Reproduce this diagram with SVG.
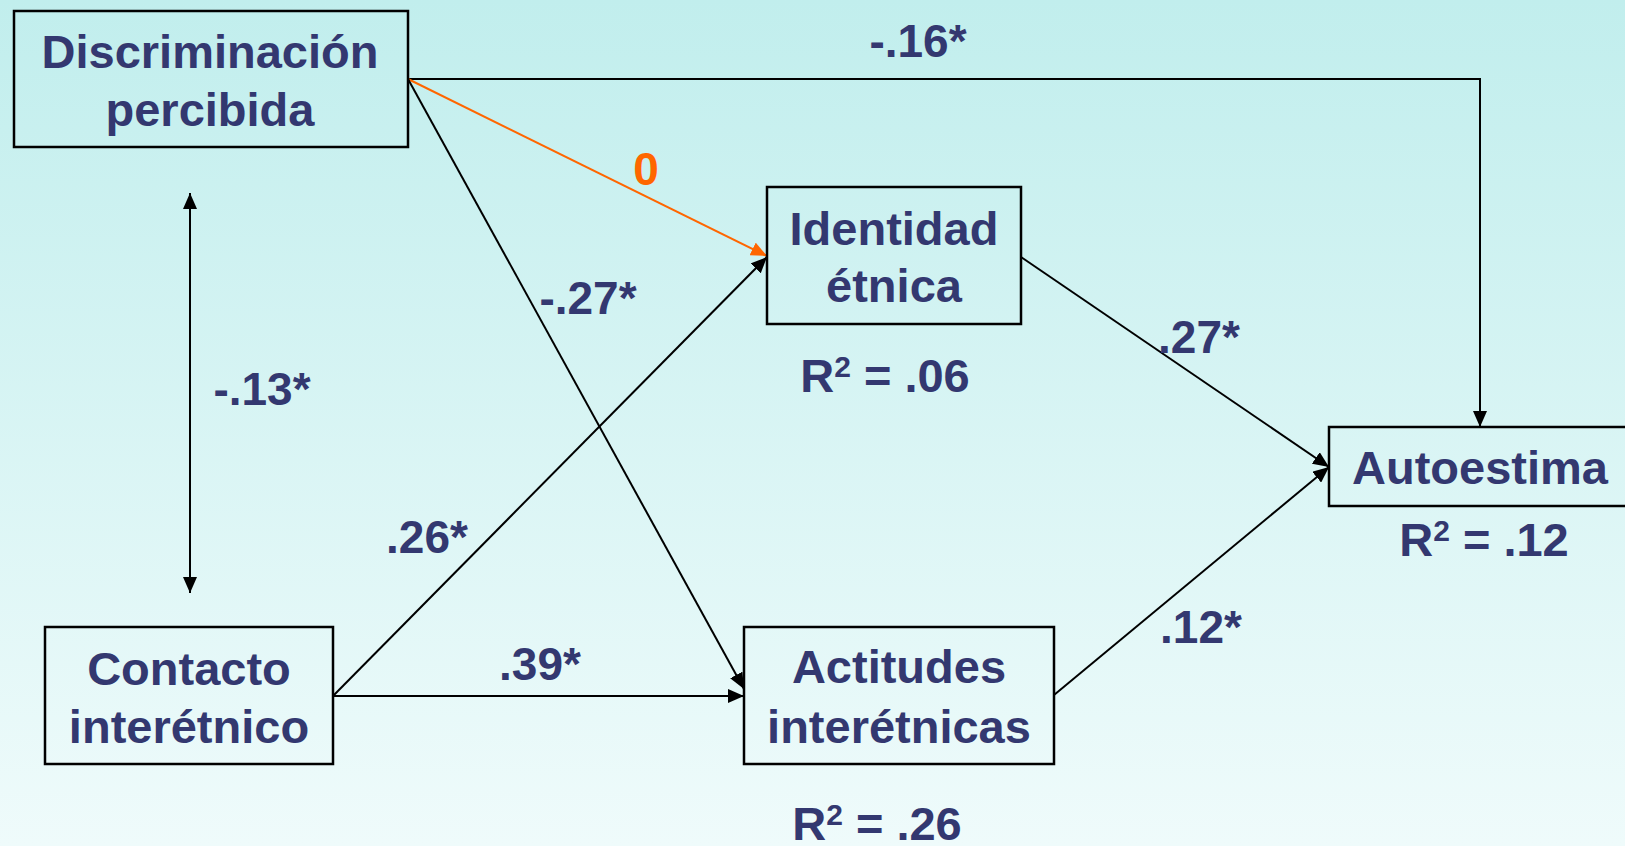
<svg xmlns="http://www.w3.org/2000/svg" width="1625" height="846" viewBox="0 0 1625 846">
<defs>
<linearGradient id="bg" x1="0" y1="0" x2="0" y2="1">
<stop offset="0" stop-color="#c1eeed"/>
<stop offset="1" stop-color="#effbfb"/>
</linearGradient>
<marker id="ah" markerUnits="userSpaceOnUse" markerWidth="17" markerHeight="14" refX="16" refY="7" orient="auto">
<path d="M0,0 L16,7 L0,14 Z" fill="#000"/>
</marker>
<marker id="ahs" markerUnits="userSpaceOnUse" markerWidth="17" markerHeight="14" refX="16" refY="7" orient="auto-start-reverse">
<path d="M0,0 L16,7 L0,14 Z" fill="#000"/>
</marker>
<marker id="aho" markerUnits="userSpaceOnUse" markerWidth="17" markerHeight="14" refX="16" refY="7" orient="auto">
<path d="M0,0 L16,7 L0,14 Z" fill="#ff6600"/>
</marker>
<style>
.box{fill:none;stroke:#000;stroke-width:2.5}
.t{font-family:"Liberation Sans",Arial,sans-serif;font-weight:bold;font-size:47px;fill:#333870;text-anchor:middle}
.l{font-family:"Liberation Sans",Arial,sans-serif;font-weight:bold;font-size:46px;fill:#333870;text-anchor:middle}
.sup{font-size:30px}
.c{fill:none;stroke:#000;stroke-width:2}
</style>
</defs>
<rect x="0" y="0" width="1625" height="846" fill="url(#bg)"/>

<g id="connectors">
<polyline class="c" points="408,79 1480,79 1480,427" marker-end="url(#ah)"/>
<line x1="408" y1="79" x2="767" y2="256" stroke="#ff6600" stroke-width="2" marker-end="url(#aho)"/>
<line class="c" x1="408" y1="79" x2="744" y2="689" marker-end="url(#ah)"/>
<line class="c" x1="333" y1="696" x2="767" y2="257" marker-end="url(#ah)"/>
<line class="c" x1="333" y1="696" x2="744" y2="696" marker-end="url(#ah)"/>
<line class="c" x1="1021" y1="257" x2="1329" y2="467" marker-end="url(#ah)"/>
<line class="c" x1="1054" y1="695" x2="1329" y2="467" marker-end="url(#ah)"/>
<line class="c" x1="190" y1="193" x2="190" y2="593" stroke-width="2.5" marker-start="url(#ahs)" marker-end="url(#ahs)"/>
</g>

<g id="labels">
<text class="l" x="918" y="57">-.16*</text>
<text class="l" x="646" y="185" style="fill:#ff6600">0</text>
<text class="l" x="588" y="314">-.27*</text>
<text class="l" x="262" y="405">-.13*</text>
<text class="l" x="427" y="553">.26*</text>
<text class="l" x="540" y="680">.39*</text>
<text class="l" x="1199" y="353">.27*</text>
<text class="l" x="1201" y="643">.12*</text>
<text class="t" x="885" y="392">R<tspan class="sup" dy="-15">2</tspan><tspan dy="15"> = .06</tspan></text>
<text class="t" x="1484" y="556">R<tspan class="sup" dy="-15">2</tspan><tspan dy="15"> = .12</tspan></text>
<text class="t" x="877" y="840">R<tspan class="sup" dy="-15">2</tspan><tspan dy="15"> = .26</tspan></text>
</g>

<g id="discriminacion">
<rect class="box" x="14" y="11" width="394" height="136"/>
<text class="t" x="210" y="68">Discriminación</text>
<text class="t" x="210" y="126">percibida</text>
</g>

<g id="identidad">
<rect class="box" x="767" y="187" width="254" height="137"/>
<text class="t" x="894" y="245">Identidad</text>
<text class="t" x="894" y="302">étnica</text>
</g>

<g id="contacto">
<rect class="box" x="45" y="627" width="288" height="137"/>
<text class="t" x="189" y="685">Contacto</text>
<text class="t" x="189" y="743">interétnico</text>
</g>

<g id="actitudes">
<rect class="box" x="744" y="627" width="310" height="137"/>
<text class="t" x="899" y="683">Actitudes</text>
<text class="t" x="899" y="743">interétnicas</text>
</g>

<g id="autoestima">
<rect class="box" x="1329" y="427" width="310" height="79"/>
<text class="t" x="1480" y="484">Autoestima</text>
</g>
</svg>
